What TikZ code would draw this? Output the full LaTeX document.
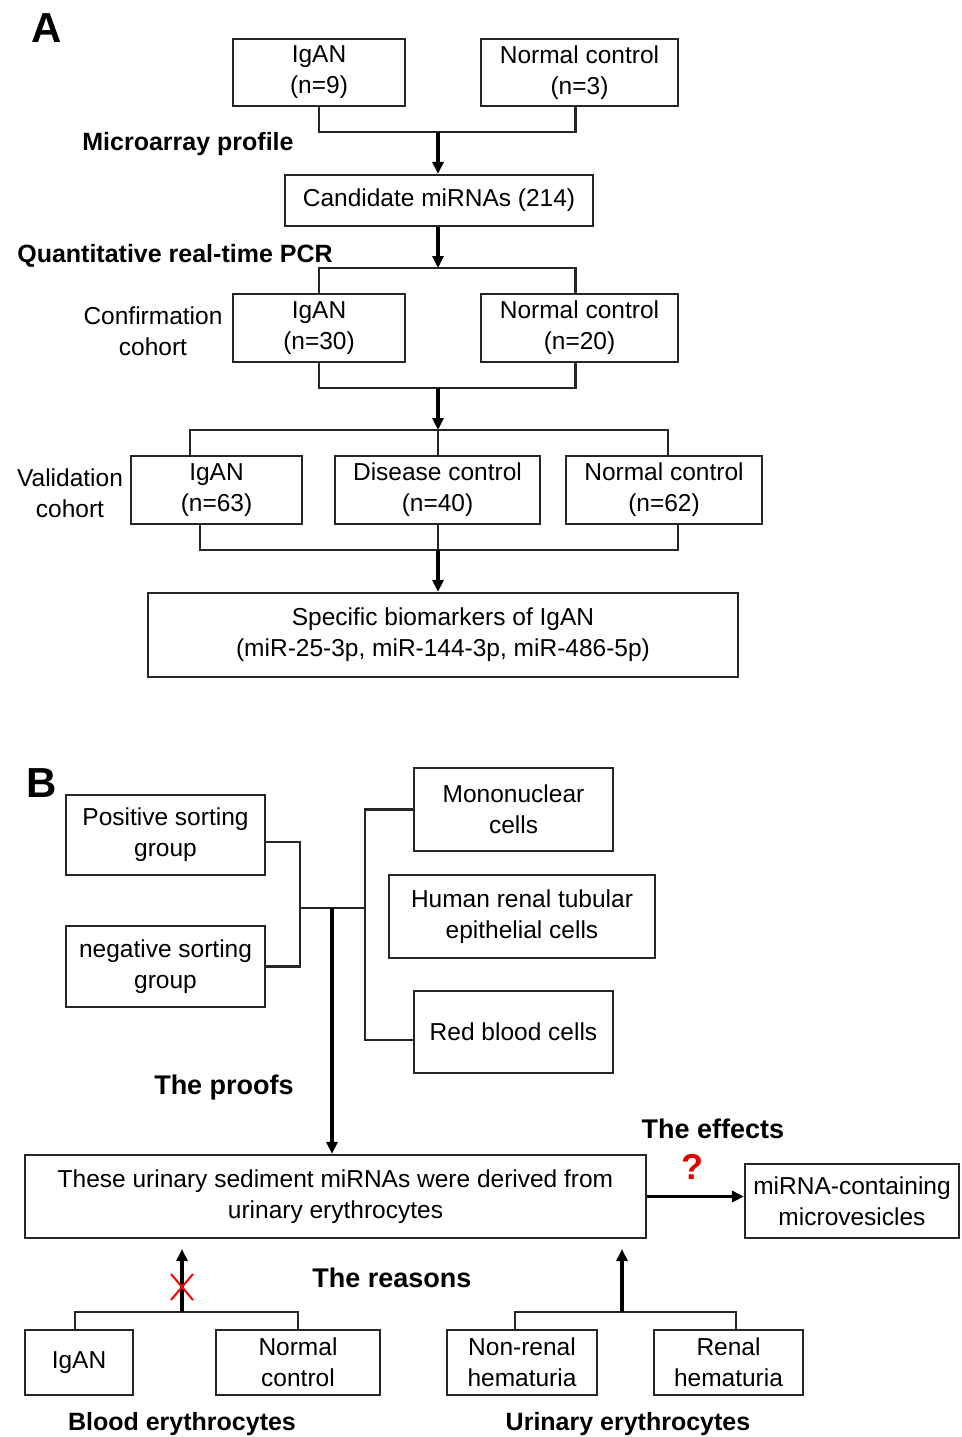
\documentclass[tikz,border=0pt]{standalone}
\usepackage{fontspec}
\setmainfont{Liberation Sans}
\usetikzlibrary{arrows.meta}
\newcommand\fsn{\fontsize{24.5}{31}\selectfont}
\newcommand\fsb{\fontsize{25}{30}\selectfont\bfseries}
\newcommand\fsbb{\fontsize{27}{32}\selectfont\bfseries}
\tikzset{
  box/.style={draw=black!85, line width=2.2pt, align=center, inner sep=0pt, font=\fsn},
  conn/.style={draw=black!85, line width=2.2pt},
  arr/.style={draw=black, line width=3.2pt, -{Triangle[length=12pt,width=11pt]}},
  lbl/.style={align=center, font=\fsn, inner sep=0pt},
  blbl/.style={font=\fsb, inner sep=0pt},
  bblbl/.style={font=\fsbb, inner sep=0pt},
  panel/.style={font=\fontsize{42}{42}\selectfont\bfseries, inner sep=0pt}
}
\begin{document}
\begin{tikzpicture}[x=1pt,y=-1pt]
\useasboundingbox (0,0) rectangle (961,1437);
% ---------------- Panel A ----------------
\node[panel] (pA) at (47,28) {A};
\node[box, minimum width=172, minimum height=67] (a1) at (319,72.5) {IgAN\\(n=9)};
\node[box, minimum width=197, minimum height=67] (a2) at (579.5,72.5) {Normal control\\(n=3)};
\coordinate (j1) at (438,132);
\draw[conn] (a1.south) |- (j1) -| ([xshift=-4]a2.south);
\node[blbl] (mp) at (188,144) {Microarray profile};
\node[box, minimum width=308, minimum height=51] (cand) at (439,200.5) {Candidate miRNAs (214)};
\draw[arr] (j1) -- (cand.north -| j1);
\node[blbl] (qp) at (175,256) {Quantitative real-time PCR};
\coordinate (j2) at (438,268);
\draw[arr] (cand.south -| j2) -- (j2);
\node[box, minimum width=172, minimum height=68] (c1) at (319,328) {IgAN\\(n=30)};
\node[box, minimum width=197, minimum height=68] (c2) at (579.5,328) {Normal control\\(n=20)};
\draw[conn] (c1.north) |- (j2) -| ([xshift=-4]c2.north);
\node[lbl] (cc) at (153,331) {Confirmation\\cohort};
\coordinate (j3) at (438,388);
\coordinate (j4) at (438,430);
\draw[conn] (c1.south) |- (j3) -| ([xshift=-4]c2.south);
\draw[arr] (j3) -- (j4);
\node[box, minimum width=171, minimum height=68] (v1) at (216.5,490) {IgAN\\(n=63)};
\node[box, minimum width=205, minimum height=68] (v2) at (437.5,490) {Disease control\\(n=40)};
\node[box, minimum width=196, minimum height=68] (v3) at (664,490) {Normal control\\(n=62)};
\node[lbl] (vc) at (70,493) {Validation\\cohort};
\draw[conn] ([xshift=-26.5]v1.north) |- (j4) -| ([xshift=4]v3.north);
\draw[conn] (j4) -- (j4 |- v2.north);
\coordinate (j5) at (438,550);
\draw[conn] ([xshift=-16.5]v1.south) |- (j5) -| ([xshift=14]v3.south);
\draw[conn] (j5 |- v2.south) -- (j5);
\node[box, minimum width=590, minimum height=84] (spec) at (443,635) {Specific biomarkers of IgAN\\(miR-25-3p, miR-144-3p, miR-486-5p)};
\draw[arr] (j5) -- (spec.north -| j5);
% ---------------- Panel B ----------------
\node[panel] (pB) at (42,783) {B};
\node[box, minimum width=199, minimum height=80] (ps) at (165.5,835) {Positive sorting\\group};
\node[box, minimum width=199, minimum height=81] (ns) at (165.5,966.5) {negative sorting\\group};
\node[box, minimum width=199, minimum height=83] (mono) at (513.5,809.5) {Mononuclear\\cells};
\node[box, minimum width=266, minimum height=83] (hr) at (522,916.5) {Human renal tubular\\epithelial cells};
\node[box, minimum width=199, minimum height=82] (rbc) at (513.5,1032) {Red blood cells};
\coordinate (jb) at (300,908);
\coordinate (jc) at (365,908);
\coordinate (jd) at (332,908);
\draw[conn] ([yshift=-7]ps.east) -| (jb) |- (ns.east);
\draw[conn] (jb) -- (jc);
\draw[conn] (mono.west) -| (jc) |- ([yshift=-8]rbc.west);
\node[bblbl] (proofs) at (224,1088) {The proofs};
\node[box, minimum width=621, minimum height=83] (big) at (335.5,1196.5) {These urinary sediment miRNAs were derived from\\urinary erythrocytes};
\draw[arr] (jd) -- (big.north -| jd);
\node[bblbl] (effects) at (713,1129) {The effects};
\node[box, minimum width=214, minimum height=74] (mv) at (852,1201) {miRNA-containing\\microvesicles};
\draw[arr] (big.east) -- (big.east -| mv.west);
\node[font=\fontsize{36}{36}\selectfont\bfseries, text=red!90!black, inner sep=0pt] (q) at (692,1167) {?};
\node[bblbl] (reasons) at (392,1278) {The reasons};
\node[box, minimum width=108, minimum height=65] (b1) at (79,1362.5) {IgAN};
\node[box, minimum width=164, minimum height=65] (b2) at (298,1362.5) {Normal\\control};
\node[box, minimum width=150, minimum height=65] (b3) at (522,1362.5) {Non-renal\\hematuria};
\node[box, minimum width=149, minimum height=65] (b4) at (728.5,1362.5) {Renal\\hematuria};
\coordinate (k1) at (182,1312);
\coordinate (k2) at (622,1312);
\draw[conn] ([xshift=-4]b1.north) |- (k1) -| (b2.north);
\draw[conn] ([xshift=-7]b3.north) |- (k2) -| ([xshift=7.5]b4.north);
\draw[arr] (k1) -- ([yshift=-10]k1 |- big.south);
\draw[arr] (k2) -- ([yshift=-10]k2 |- big.south);
\coordinate (x1) at (171,1274);
\coordinate (x2) at (193,1300);
\coordinate (x3) at (193,1274);
\coordinate (x4) at (171,1300);
\draw[red, line width=2pt] (x1) -- (x2) (x3) -- (x4);
\node[blbl] (be) at (182,1424) {Blood erythrocytes};
\node[blbl] (ue) at (628,1424) {Urinary erythrocytes};
\end{tikzpicture}
\end{document}
